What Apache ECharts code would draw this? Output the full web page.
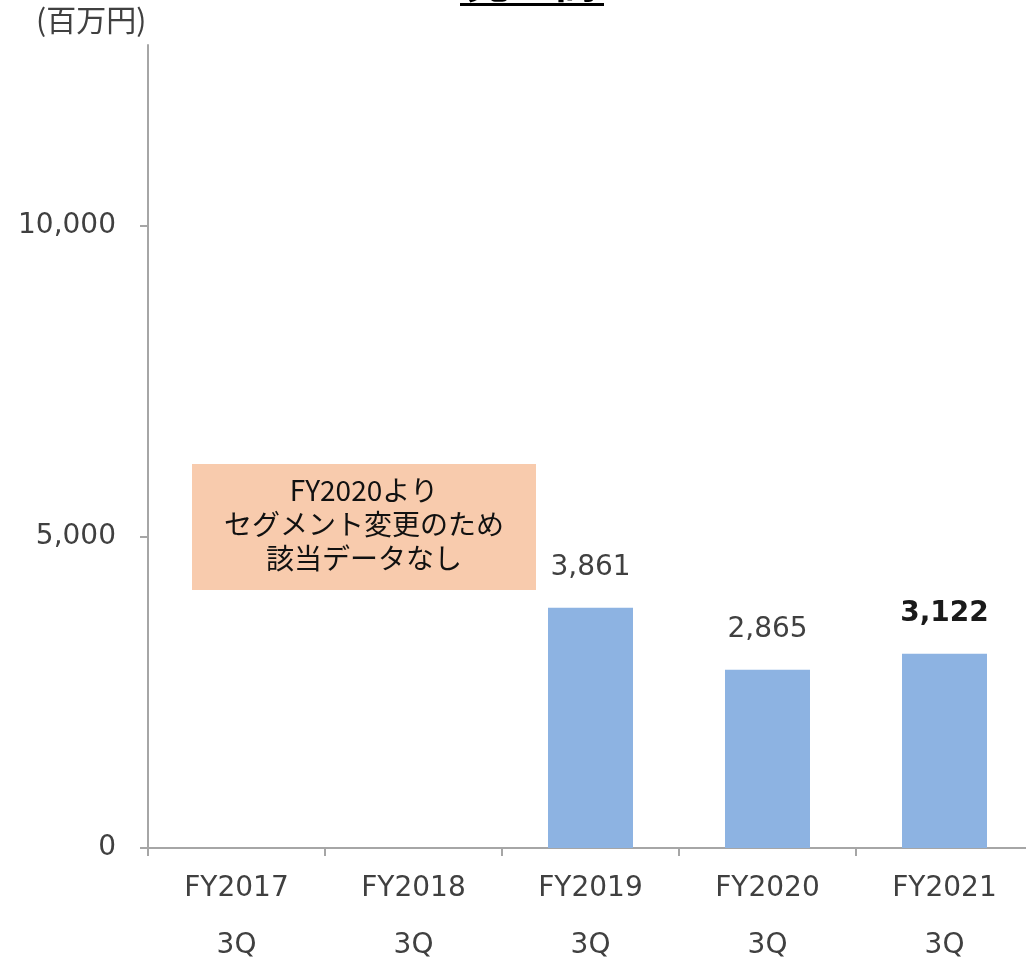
<!DOCTYPE html>
<html>
<head>
<meta charset="utf-8">
<script src="https://cdn.jsdelivr.net/npm/echarts@6/dist/echarts.min.js"></script>
<style>html,body{margin:0;padding:0;background:#fff}#c{width:1026px;height:963px}</style>
</head>
<body>
<div id="c"></div>
<script>
const categories = ['FY2017\n3Q', 'FY2018\n3Q', 'FY2019\n3Q', 'FY2020\n3Q', 'FY2021\n3Q'];
const sales = [null, null, 3861, 2865, 3122];
const boldIndex = 4;
const yTicks = [0, 5000, 10000];
const unitLabel = '(百万円)';
const titleText = '売上高';
const noteLines = ['FY2020より', 'セグメント変更のため', '該当データなし'];

const chart = echarts.init(document.getElementById('c'));
const axisColor = '#A6A6A6';
const textColor = '#404040';
const font = 'DejaVu Sans, Verdana, sans-serif';

chart.setOption({
  animation: false,
  backgroundColor: '#fff',
  grid: { left: 148, right: -7, top: 45, bottom: 115, outerBoundsMode: 'none', containLabel: false },
  xAxis: {
    type: 'category',
    data: categories,
    axisLine: { lineStyle: { color: axisColor, width: 2 } },
    axisTick: { show: true, length: 8, lineStyle: { color: axisColor, width: 2 } },
    axisLabel: { color: textColor, fontSize: 28, fontFamily: font, lineHeight: 57, margin: 12 }
  },
  yAxis: {
    type: 'value',
    min: 0,
    max: 12900,
    splitLine: { show: false },
    axisLine: { show: true, lineStyle: { color: axisColor, width: 2 } },
    axisTick: { show: true, length: 8, customValues: yTicks, lineStyle: { color: axisColor, width: 2 } },
    axisLabel: {
      color: textColor, fontSize: 28, fontFamily: font, margin: 32,
      customValues: yTicks,
      formatter: v => v.toLocaleString('en-US')
    }
  },
  series: [{
    type: 'bar',
    barWidth: 85,
    itemStyle: { color: '#8DB3E2' },
    data: sales.map((v, i) => ({
      value: v,
      label: {
        show: v != null,
        position: 'top',
        distance: 26,
        color: i === boldIndex ? '#1a1a1a' : textColor,
        fontWeight: i === boldIndex ? 'bold' : 'normal',
        fontSize: 28,
        fontFamily: font,
        formatter: p => p.value.toLocaleString('en-US')
      }
    }))
  }],
  graphic: [
    { type: 'text', left: 36, top: 5, style: { text: unitLabel, fontSize: 30, fontFamily: 'Noto Sans CJK JP', fill: textColor } },
    { type: 'text', x: 532, y: 3, style: { text: titleText, fontSize: 44, fontWeight: 'bold', fontFamily: 'Noto Sans CJK JP', fill: '#000', align: 'center', verticalAlign: 'bottom' } },
    { type: 'line', shape: { x1: 460, y1: 4.5, x2: 604, y2: 4.5 }, style: { stroke: '#000', lineWidth: 3 } },
    { type: 'rect', shape: { x: 192, y: 464, width: 344, height: 126 }, style: { fill: '#F8CBAD' } },
    { type: 'text', x: 364, y: 524, style: { text: noteLines.join('\n'), fontSize: 28, lineHeight: 34, fontFamily: 'Noto Sans CJK JP', fill: '#111', align: 'center', verticalAlign: 'middle' } }
  ]
});
</script>
</body>
</html>
